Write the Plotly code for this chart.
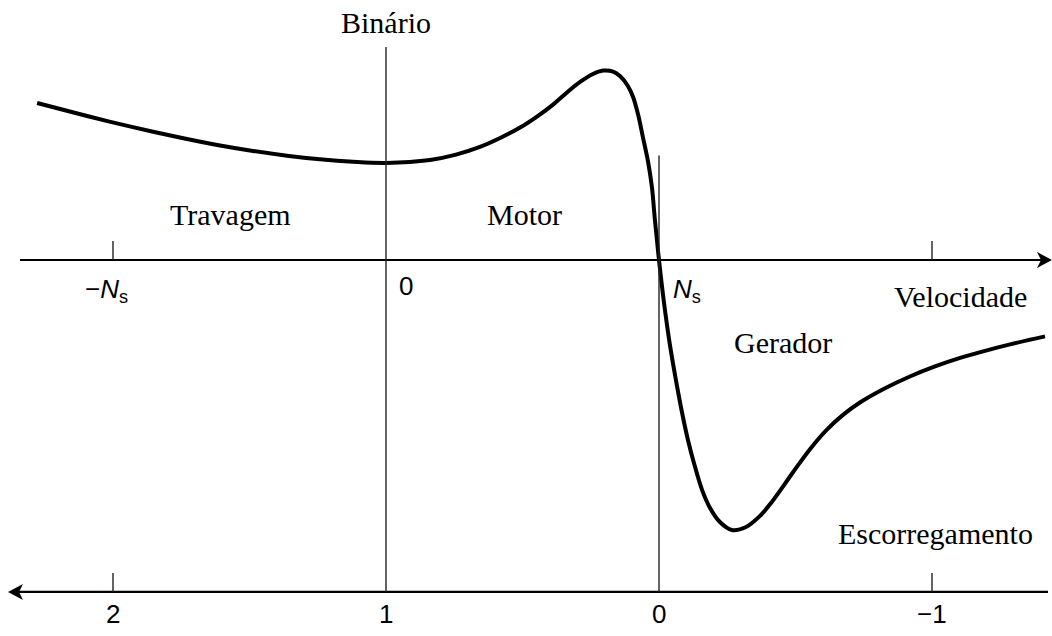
import plotly.graph_objects as go

# Torque-speed characteristic of an induction machine.
# Speed is in per-unit of synchronous speed (n / Ns); slip s = 1 - n.
speed_pu = [-1.278, -1.095, -0.974, -0.853, -0.729, -0.608, -0.487, -0.363,
            -0.242, -0.121, 0.0,
            0.161, 0.253, 0.344, 0.418, 0.491, 0.553, 0.612, 0.663, 0.711,
            0.758, 0.795, 0.832, 0.857, 0.886, 0.905, 0.923, 0.941, 0.960,
            0.974, 0.985, 1.0,
            1.018, 1.040, 1.062, 1.084, 1.106, 1.128, 1.158, 1.187, 1.223,
            1.267, 1.319, 1.370, 1.414, 1.491, 1.553, 1.615, 1.674, 1.736,
            1.828, 1.919, 2.011, 2.103, 2.194, 2.286, 2.414]
torque_pu = [0.826, 0.758, 0.715, 0.675, 0.637, 0.603, 0.574, 0.549,
             0.530, 0.517, 0.511,
             0.526, 0.553, 0.595, 0.642, 0.697, 0.755, 0.818, 0.882, 0.937,
             0.979, 0.997, 0.992, 0.968, 0.916, 0.858, 0.768, 0.647, 0.516,
             0.384, 0.211, 0.0,
             -0.221, -0.447, -0.632, -0.800, -0.947, -1.068, -1.211, -1.305,
             -1.379, -1.421, -1.405, -1.347, -1.272, -1.117, -0.996, -0.893,
             -0.815, -0.750, -0.675, -0.613, -0.560, -0.515, -0.478, -0.444,
             -0.402]

# Speed-axis tick labels (per-unit speed -1, 0, 1)
speed_tick_text = ["\u2212<i>N</i><sub>s</sub>", "0", "<i>N</i><sub>s</sub>"]
speed_tick_marks = [-1.0, 2.0]          # speeds carrying a small tick mark

# Slip-axis ticks (slip values) and their labels
slip_ticks = [2, 1, 0, -1]
slip_tick_text = ["2", "1", "0", "\u22121"]

# Region names
region_labels = ["Travagem", "Motor", "Gerador"]

X_RANGE = [-1.41392, 2.43956]
Y_RANGE = [-1.97895, 1.36842]
SLIP_AXIS_Y = -1.747          # vertical position of the slip axis
TICK_LEN = 0.10               # tick height in torque units

serif = "Liberation Serif, Times New Roman, serif"
sans = "Liberation Sans, Arial, Helvetica, sans-serif"

fig = go.Figure()
fig.add_trace(go.Scatter(
    x=speed_pu, y=torque_pu, mode="lines",
    line=dict(color="black", width=4, shape="spline", smoothing=1.0),
    hoverinfo="skip", showlegend=False,
))

shapes = []
axis_line = dict(color="black", width=2.2)
thin_line = dict(color="#222222", width=1.4)

# Speed axis (y = 0) and slip axis below
shapes.append(dict(type="line", xref="x", yref="y", x0=-1.3407, x1=2.425,
                   y0=0, y1=0, line=axis_line))
shapes.append(dict(type="line", xref="x", yref="y", x0=-1.37, x1=2.425,
                   y0=SLIP_AXIS_Y, y1=SLIP_AXIS_Y, line=axis_line))

# Vertical lines at zero speed (torque axis) and synchronous speed
shapes.append(dict(type="line", xref="x", yref="y", x0=0, x1=0,
                   y0=SLIP_AXIS_Y, y1=1.121, line=thin_line))
shapes.append(dict(type="line", xref="x", yref="y", x0=1, x1=1,
                   y0=SLIP_AXIS_Y, y1=0.550, line=thin_line))

# Small ticks on both axes
for n in speed_tick_marks:
    shapes.append(dict(type="line", xref="x", yref="y", x0=n, x1=n,
                       y0=0, y1=TICK_LEN, line=thin_line))
    shapes.append(dict(type="line", xref="x", yref="y", x0=n, x1=n,
                       y0=SLIP_AXIS_Y, y1=SLIP_AXIS_Y + TICK_LEN, line=thin_line))

# Arrowheads (drawn in pixel units around their tips)
right_head = "M0,0 L-15,8 L-11,0 L-15,-8 Z"
left_head = "M0,0 L15,8 L11,0 L15,-8 Z"
shapes.append(dict(type="path", xref="x", yref="y", xsizemode="pixel",
                   ysizemode="pixel", xanchor=2.4396, yanchor=0,
                   path=right_head, fillcolor="black", line=dict(width=0)))
shapes.append(dict(type="path", xref="x", yref="y", xsizemode="pixel",
                   ysizemode="pixel", xanchor=-1.3846, yanchor=SLIP_AXIS_Y,
                   path=left_head, fillcolor="black", line=dict(width=0)))

annotations = []


def label(x, y, text, font_family, size):
    annotations.append(dict(x=x, y=y, xref="x", yref="y", text=text,
                            showarrow=False, xanchor="center", yanchor="middle",
                            font=dict(family=font_family, size=size, color="black")))


# Axis titles
label(0.0, 1.2526, "Binário", serif, 30)
label(2.106, -0.1947, "Velocidade", serif, 30)
label(2.011, -1.442, "Escorregamento", serif, 30)

# Region names
label(-0.568, 0.2395, region_labels[0], serif, 30)
label(0.5055, 0.2395, region_labels[1], serif, 30)
label(1.454, -0.434, region_labels[2], serif, 30)

# Speed-axis tick labels
speed_label_pos = [(-1.022, -0.16), (0.073, -0.137), (1.103, -0.16)]
for (lx, ly), txt in zip(speed_label_pos, speed_tick_text):
    label(lx, ly, txt, sans, 26)

# Slip-axis tick labels, placed at speed = 1 - slip
for s, txt in zip(slip_ticks, slip_tick_text):
    label(1 - s, -1.863, txt, sans, 26)

fig.update_layout(
    width=1052, height=636,
    margin=dict(l=0, r=0, t=0, b=0),
    paper_bgcolor="white", plot_bgcolor="white",
    xaxis=dict(range=X_RANGE, visible=False, fixedrange=True),
    yaxis=dict(range=Y_RANGE, visible=False, fixedrange=True),
    shapes=shapes, annotations=annotations,
    showlegend=False,
)

fig.write_html("out.html", config={"displayModeBar": False})
